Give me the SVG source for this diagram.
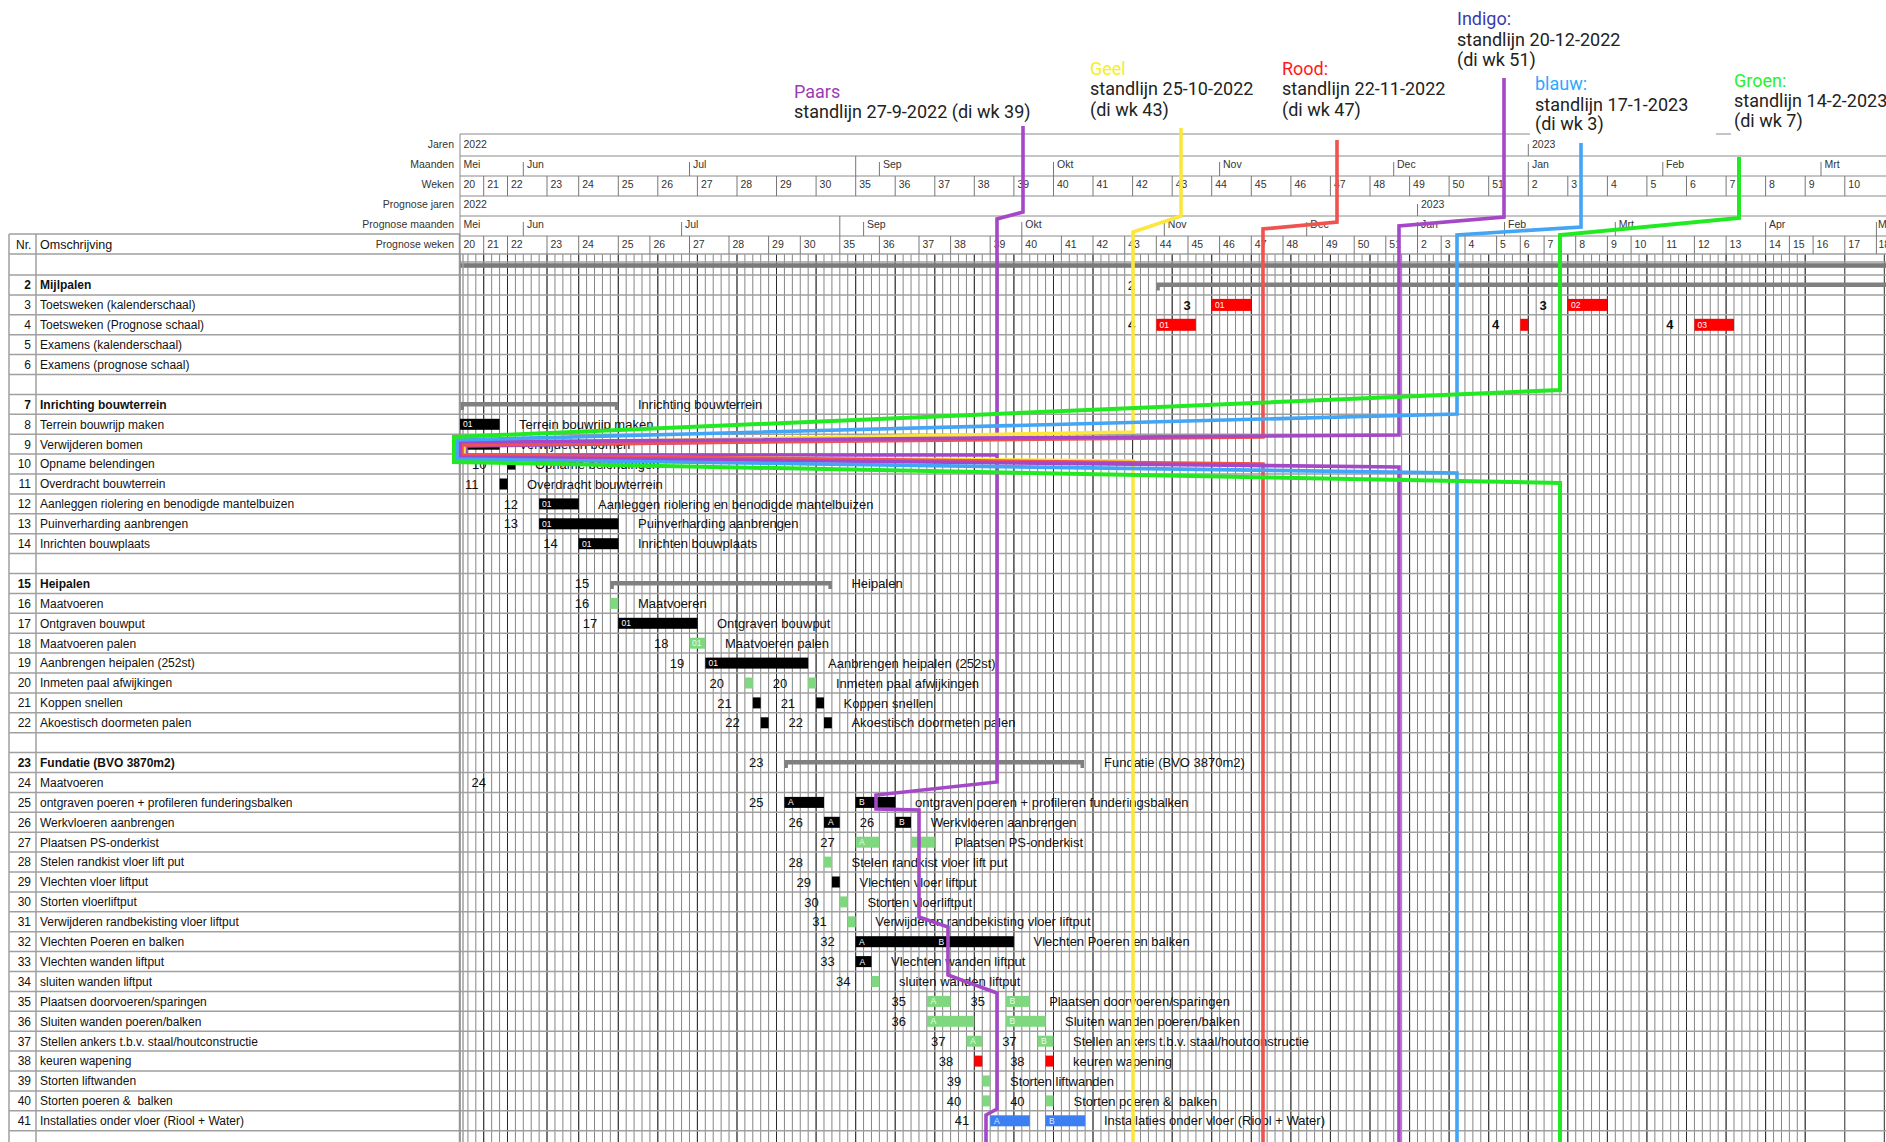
<svg xmlns="http://www.w3.org/2000/svg" width="1886" height="1142" viewBox="0 0 1886 1142">
<style>
  text{font-family:"Liberation Sans",Arial,sans-serif}
  .hl{font-size:10.5px;fill:#333}
  .hr{font-size:10.5px;fill:#333;text-anchor:end}
  .tc{font-size:12px;fill:#111}
  .nr{font-size:12px;fill:#111;text-anchor:end}
  .b{font-weight:bold}
  .lb{font-size:13px;fill:#111}
  .ln{font-size:13px;fill:#111;text-anchor:end}
  .it{font-size:8.5px;fill:#fff}
  .ig{font-size:8.5px;fill:#eefaee}
  .iu{font-size:8.5px;fill:#dde8ff}
  .st{font-family:Roboto,"Liberation Sans",sans-serif;font-size:18px;fill:#222}
  .bk{fill:#000}.gn{fill:#7fd87f}.rd{fill:#f00}.bu{fill:#3b7ff3}.sm{fill:#808080}
  .gd{stroke:#858585;stroke-width:1;fill:none}
  .gw{stroke:#2a2a2a;stroke-width:1;fill:none}
  .gh{stroke:#a0a0a0;stroke-width:1.5;fill:none}
  .hd{stroke:#8a8a8a;stroke-width:1;fill:none}
  .tk{stroke:#777;stroke-width:1;fill:none}
  .sl{fill:none;stroke-width:3.6;stroke-linejoin:miter}
</style>

<rect width="1886" height="1142" fill="#fff"/>

<!-- time grid: day columns, calendar week columns, row lines -->
<g id="grid">
  <path class="gd" d="M460 254v888m7.913-888v888m7.913-888v888m7.913-888v888m7.913-888v888m7.913-888v888m7.913-888v888m7.913-888v888m7.913-888v888m7.913-888v888m7.913-888v888m7.913-888v888m7.913-888v888m7.913-888v888m7.913-888v888m7.913-888v888m7.913-888v888m7.913-888v888m7.913-888v888m7.913-888v888m7.913-888v888m7.913-888v888m7.913-888v888m7.913-888v888m7.913-888v888m7.913-888v888m7.913-888v888m7.913-888v888m7.913-888v888m7.913-888v888m7.913-888v888m7.913-888v888m7.913-888v888m7.913-888v888m7.913-888v888m7.913-888v888m7.913-888v888m7.913-888v888m7.913-888v888m7.913-888v888m7.913-888v888m7.913-888v888m7.913-888v888m7.913-888v888m7.913-888v888m7.913-888v888m7.913-888v888m7.913-888v888m7.913-888v888m7.913-888v888m7.913-888v888m7.913-888v888m7.913-888v888m7.913-888v888m7.913-888v888m7.913-888v888m7.913-888v888m7.913-888v888m7.913-888v888m7.913-888v888m7.913-888v888m7.913-888v888m7.913-888v888m7.913-888v888m7.913-888v888m7.913-888v888m7.913-888v888m7.913-888v888m7.913-888v888m7.913-888v888m7.913-888v888m7.913-888v888m7.913-888v888m7.913-888v888m7.913-888v888m7.913-888v888m7.913-888v888m7.913-888v888m7.913-888v888m7.913-888v888m7.913-888v888m7.913-888v888m7.913-888v888m7.913-888v888m7.913-888v888m7.913-888v888m7.913-888v888m7.913-888v888m7.913-888v888m7.913-888v888m7.913-888v888m7.913-888v888m7.913-888v888m7.913-888v888m7.913-888v888m7.913-888v888m7.913-888v888m7.913-888v888m7.913-888v888m7.913-888v888m7.913-888v888m7.913-888v888m7.913-888v888m7.913-888v888m7.913-888v888m7.913-888v888m7.913-888v888m7.913-888v888m7.913-888v888m7.913-888v888m7.913-888v888m7.913-888v888m7.913-888v888m7.913-888v888m7.913-888v888m7.913-888v888m7.913-888v888m7.913-888v888m7.913-888v888m7.913-888v888m7.913-888v888m7.913-888v888m7.913-888v888m7.913-888v888m7.913-888v888m7.913-888v888m7.913-888v888m7.913-888v888m7.913-888v888m7.913-888v888m7.913-888v888m7.913-888v888m7.913-888v888m7.913-888v888m7.913-888v888m7.913-888v888m7.913-888v888m7.913-888v888m7.913-888v888m7.913-888v888m7.913-888v888m7.913-888v888m7.913-888v888m7.913-888v888m7.913-888v888m7.913-888v888m7.913-888v888m7.913-888v888m7.913-888v888m7.913-888v888m7.913-888v888m7.913-888v888m7.913-888v888m7.913-888v888m7.913-888v888m7.913-888v888m7.913-888v888m7.913-888v888m7.913-888v888m7.913-888v888m7.913-888v888m7.913-888v888m7.913-888v888m7.913-888v888m7.913-888v888m7.913-888v888m7.913-888v888m7.913-888v888m7.913-888v888m7.913-888v888m7.913-888v888"/>
  <path class="gw" d="M483.7 254V1142M507.5 254V1142M547 254V1142M578.7 254V1142M618.3 254V1142M657.8 254V1142M697.4 254V1142M737 254V1142M776.5 254V1142M816.1 254V1142M855.7 254V1142M895.2 254V1142M934.8 254V1142M974.3 254V1142M1013.9 254V1142M1053.5 254V1142M1093 254V1142M1132.6 254V1142M1172.2 254V1142M1211.7 254V1142M1251.3 254V1142M1290.9 254V1142M1330.4 254V1142M1370 254V1142M1409.6 254V1142M1449.1 254V1142M1488.7 254V1142M1528.3 254V1142M1567.8 254V1142M1607.4 254V1142M1646.9 254V1142M1686.5 254V1142M1726.1 254V1142M1765.6 254V1142M1805.2 254V1142M1844.8 254V1142M1884.3 254V1142"/>
  <path class="gh" d="M9 254H1886M460 262H1886M9 275H1886M9 294.9H1886M9 314.8H1886M9 334.7H1886M9 354.6H1886M9 374.5H1886M9 394.4H1886M9 414.3H1886M9 434.2H1886M9 454.1H1886M9 474H1886M9 493.9H1886M9 513.8H1886M9 533.7H1886M9 553.6H1886M9 573.5H1886M9 593.4H1886M9 613.3H1886M9 633.2H1886M9 653.1H1886M9 673H1886M9 692.9H1886M9 712.8H1886M9 732.7H1886M9 752.6H1886M9 772.5H1886M9 792.4H1886M9 812.3H1886M9 832.2H1886M9 852.1H1886M9 872H1886M9 891.9H1886M9 911.8H1886M9 931.7H1886M9 951.6H1886M9 971.5H1886M9 991.4H1886M9 1011.3H1886M9 1031.2H1886M9 1051.1H1886M9 1071H1886M9 1090.9H1886M9 1110.8H1886M9 1130.7H1886"/>
  <rect x="460" y="263.2" width="1426" height="4.6" fill="#7a7a7a"/>
  <!-- task table frame -->
  <path class="gh" d="M9 234H460M9 234V1142M36 234V1142M459.5 234V1142M463 254V1142"/>
</g>

<!-- timeline header -->
<g id="timeline-header">
  <path class="hd" d="M460 134H1530M1716 134H1731M460 156H1886M460 176H1886M460 196H1886M460 216H1886M460 236H1886M460 134V1142"/>
  <text class="hr" x="454" y="147.7">Jaren</text>
  <text class="hr" x="454" y="167.5">Maanden</text>
  <text class="hr" x="454" y="187.5">Weken</text>
  <text class="hr" x="454" y="207.5">Prognose jaren</text>
  <text class="hr" x="454" y="227.5">Prognose maanden</text>
  <text class="hr" x="454" y="247.5">Prognose weken</text>
  <text class="tc" x="16" y="248.5">Nr.</text>
  <text class="tc" x="40" y="248.5" style="font-size:12.5px">Omschrijving</text>

  <!-- years -->
  <path class="tk" d="M1528.3 144V156M1417.5 204V216"/>
  <text class="hl" x="463.5" y="147.7">2022</text>
  <text class="hl" x="1532" y="147.7">2023</text>
  <text class="hl" x="463.5" y="207.5">2022</text>
  <text class="hl" x="1421" y="207.5">2023</text>

  <!-- calendar months -->
  <path class="tk" d="M523.3 162V176M689.5 162V176M855.7 156V176M879.4 162V176M1053.5 162V176M1219.6 162V176M1393.7 162V176M1528.3 162V176M1662.8 162V176M1821 162V176"/>
  <g class="hl">
    <text x="463.5" y="167.5">Mei</text><text x="527" y="167.5">Jun</text><text x="693" y="167.5">Jul</text><text x="883" y="167.5">Sep</text><text x="1057" y="167.5">Okt</text><text x="1223" y="167.5">Nov</text><text x="1397" y="167.5">Dec</text><text x="1532" y="167.5">Jan</text><text x="1666" y="167.5">Feb</text><text x="1824.5" y="167.5">Mrt</text>
  </g>

  <!-- calendar weeks -->
  <path class="tk" d="M483.7 176V196M507.5 176V196M547 176V196M578.7 176V196M618.3 176V196M657.8 176V196M697.4 176V196M737 176V196M776.5 176V196M816.1 176V196M855.7 176V196M895.2 176V196M934.8 176V196M974.3 176V196M1013.9 176V196M1053.5 176V196M1093 176V196M1132.6 176V196M1172.2 176V196M1211.7 176V196M1251.3 176V196M1290.9 176V196M1330.4 176V196M1370 176V196M1409.6 176V196M1449.1 176V196M1488.7 176V196M1528.3 176V196M1567.8 176V196M1607.4 176V196M1646.9 176V196M1686.5 176V196M1726.1 176V196M1765.6 176V196M1805.2 176V196M1844.8 176V196"/>
  <g class="hl">
    <text x="463.5" y="187.5">20</text><text x="487.2" y="187.5">21</text><text x="511" y="187.5">22</text><text x="550.5" y="187.5">23</text><text x="582.2" y="187.5">24</text><text x="621.8" y="187.5">25</text><text x="661.3" y="187.5">26</text><text x="700.9" y="187.5">27</text><text x="740.5" y="187.5">28</text><text x="780" y="187.5">29</text><text x="819.6" y="187.5">30</text><text x="859.2" y="187.5">35</text><text x="898.7" y="187.5">36</text><text x="938.3" y="187.5">37</text><text x="977.8" y="187.5">38</text><text x="1017.4" y="187.5">39</text><text x="1057" y="187.5">40</text><text x="1096.5" y="187.5">41</text><text x="1136.1" y="187.5">42</text><text x="1175.7" y="187.5">43</text><text x="1215.2" y="187.5">44</text><text x="1254.8" y="187.5">45</text><text x="1294.4" y="187.5">46</text><text x="1333.9" y="187.5">47</text><text x="1373.5" y="187.5">48</text><text x="1413.1" y="187.5">49</text><text x="1452.6" y="187.5">50</text><text x="1492.2" y="187.5">51</text><text x="1531.8" y="187.5">2</text><text x="1571.3" y="187.5">3</text><text x="1610.9" y="187.5">4</text><text x="1650.4" y="187.5">5</text><text x="1690" y="187.5">6</text><text x="1729.6" y="187.5">7</text><text x="1769.1" y="187.5">8</text><text x="1808.7" y="187.5">9</text><text x="1848.3" y="187.5">10</text>
  </g>

  <!-- forecast months -->
  <path class="tk" d="M523.3 222V236M681.6 222V236M839.8 216V236M863.6 222V236M1021.8 222V236M1164.3 222V236M1306.7 222V236M1417.5 222V236M1504.5 222V236M1615.3 222V236M1765.6 222V236M1876.4 222V236"/>
  <g class="hl">
    <text x="463.5" y="227.5">Mei</text><text x="527" y="227.5">Jun</text><text x="685" y="227.5">Jul</text><text x="867" y="227.5">Sep</text><text x="1025.3" y="227.5">Okt</text><text x="1167.8" y="227.5">Nov</text><text x="1310.2" y="227.5">Dec</text><text x="1421" y="227.5">Jan</text><text x="1508" y="227.5">Feb</text><text x="1618.8" y="227.5">Mrt</text><text x="1769" y="227.5">Apr</text><text x="1878" y="227.5">Mei</text>
  </g>

  <!-- forecast weeks -->
  <path class="tk" d="M483.7 236V254M507.5 236V254M547 236V254M578.7 236V254M618.3 236V254M649.9 236V254M689.5 236V254M729 236V254M768.6 236V254M800.3 236V254M839.8 236V254M879.4 236V254M919 236V254M950.6 236V254M990.2 236V254M1021.8 236V254M1061.4 236V254M1093 236V254M1124.7 236V254M1156.3 236V254M1188 236V254M1219.6 236V254M1251.3 236V254M1283 236V254M1322.5 236V254M1354.2 236V254M1385.8 236V254M1417.5 236V254M1441.2 236V254M1465 236V254M1496.6 236V254M1520.3 236V254M1544.1 236V254M1575.7 236V254M1607.4 236V254M1631.1 236V254M1662.8 236V254M1694.4 236V254M1726.1 236V254M1765.6 236V254M1789.4 236V254M1813.1 236V254M1844.8 236V254M1876.4 236V254"/>
  <g class="hl">
    <text x="463.5" y="247.5">20</text><text x="487.2" y="247.5">21</text><text x="511" y="247.5">22</text><text x="550.5" y="247.5">23</text><text x="582.2" y="247.5">24</text><text x="621.8" y="247.5">25</text><text x="653.4" y="247.5">26</text><text x="693" y="247.5">27</text><text x="732.5" y="247.5">28</text><text x="772.1" y="247.5">29</text><text x="803.8" y="247.5">30</text><text x="843.3" y="247.5">35</text><text x="882.9" y="247.5">36</text><text x="922.5" y="247.5">37</text><text x="954.1" y="247.5">38</text><text x="993.7" y="247.5">39</text><text x="1025.3" y="247.5">40</text><text x="1064.9" y="247.5">41</text><text x="1096.5" y="247.5">42</text><text x="1128.2" y="247.5">43</text><text x="1159.8" y="247.5">44</text><text x="1191.5" y="247.5">45</text><text x="1223.1" y="247.5">46</text><text x="1254.8" y="247.5">47</text><text x="1286.5" y="247.5">48</text><text x="1326" y="247.5">49</text><text x="1357.7" y="247.5">50</text><text x="1389.3" y="247.5">51</text><text x="1421" y="247.5">2</text><text x="1444.7" y="247.5">3</text><text x="1468.5" y="247.5">4</text><text x="1500.1" y="247.5">5</text><text x="1523.8" y="247.5">6</text><text x="1547.6" y="247.5">7</text><text x="1579.2" y="247.5">8</text><text x="1610.9" y="247.5">9</text><text x="1634.6" y="247.5">10</text><text x="1666.3" y="247.5">11</text><text x="1697.9" y="247.5">12</text><text x="1729.6" y="247.5">13</text><text x="1769.1" y="247.5">14</text><text x="1792.9" y="247.5">15</text><text x="1816.6" y="247.5">16</text><text x="1848.3" y="247.5">17</text><text x="1878.5" y="247.5">18</text>
  </g>
</g>

<!-- tasks: one group per row, origin on the row centre line -->
<g id="task-2" transform="translate(0 285)">
  <text class="nr b" x="31" y="4.3">2</text><text class="tc b" x="40" y="4.3">Mijlpalen</text>
  <text class="ln" x="1135" y="4.6">2</text>
  <path class="sm" d="M1156.3 -2.5H1890V2H1159.8V5.5H1156.3Z"/>
</g>
<g id="task-3" transform="translate(0 304.9)">
  <text class="nr" x="31" y="4.3">3</text><text class="tc" x="40" y="4.3">Toetsweken (kalenderschaal)</text>
  <text class="ln b" x="1190.7" y="4.6">3</text>
  <rect class="rd" x="1211.7" y="-6" width="39.6" height="12"/><text class="it" x="1215" y="3">01</text>
  <text class="ln b" x="1546.8" y="4.6">3</text>
  <rect class="rd" x="1567.8" y="-6" width="39.6" height="12"/><text class="it" x="1571" y="3">02</text>
</g>
<g id="task-4" transform="translate(0 324.8)">
  <text class="nr" x="31" y="4.3">4</text><text class="tc" x="40" y="4.3">Toetsweken (Prognose schaal)</text>
  <text class="ln b" x="1135.3" y="4.6">4</text>
  <rect class="rd" x="1156.3" y="-6" width="39.6" height="12"/><text class="it" x="1159.5" y="3">01</text>
  <text class="ln b" x="1499.3" y="4.6">4</text>
  <rect class="rd" x="1520.3" y="-6" width="8" height="12"/>
  <text class="ln b" x="1673.4" y="4.6">4</text>
  <rect class="rd" x="1694.4" y="-6" width="39.6" height="12"/><text class="it" x="1697.5" y="3">03</text>
</g>
<g id="task-5" transform="translate(0 344.7)">
  <text class="nr" x="31" y="4.3">5</text><text class="tc" x="40" y="4.3">Examens (kalenderschaal)</text>
</g>
<g id="task-6" transform="translate(0 364.6)">
  <text class="nr" x="31" y="4.3">6</text><text class="tc" x="40" y="4.3">Examens (prognose schaal)</text>
</g>

<g id="task-7" transform="translate(0 404.4)">
  <text class="nr b" x="31" y="4.3">7</text><text class="tc b" x="40" y="4.3">Inrichting bouwterrein</text>
  <path class="sm" d="M460.5 -2.5H618.3V5.5H614.8V2H464V5.5H460.5Z"/>
  <text class="lb" x="638" y="4.6">Inrichting bouwterrein</text>
</g>
<g id="task-8" transform="translate(0 424.3)">
  <text class="nr" x="31" y="4.3">8</text><text class="tc" x="40" y="4.3">Terrein bouwrijp maken</text>
  <rect class="bk" x="460" y="-5.5" width="39.6" height="11"/><text class="it" x="463" y="3">01</text>
  <text class="lb" x="519" y="4.6">Terrein bouwrijp maken</text>
</g>
<g id="task-9" transform="translate(0 444.2)">
  <text class="nr" x="31" y="4.3">9</text><text class="tc" x="40" y="4.3">Verwijderen bomen</text>
  <rect class="bk" x="460" y="-5.5" width="39.6" height="11"/><text class="it" x="463" y="3">01</text>
  <text class="lb" x="519" y="4.6">Verwijderen bomen</text>
</g>
<g id="task-10" transform="translate(0 464.1)">
  <text class="nr" x="31" y="4.3">10</text><text class="tc" x="40" y="4.3">Opname belendingen</text>
  <text class="ln" x="486.5" y="4.6">10</text>
  <rect class="bk" x="507.5" y="-5.5" width="7.9" height="11"/>
  <text class="lb" x="535" y="4.6">Opname belendingen</text>
</g>
<g id="task-11" transform="translate(0 484)">
  <text class="nr" x="31" y="4.3">11</text><text class="tc" x="40" y="4.3">Overdracht bouwterrein</text>
  <text class="ln" x="478.6" y="4.6">11</text>
  <rect class="bk" x="499.6" y="-5.5" width="7.9" height="11"/>
  <text class="lb" x="527" y="4.6">Overdracht bouwterrein</text>
</g>
<g id="task-12" transform="translate(0 503.9)">
  <text class="nr" x="31" y="4.3">12</text><text class="tc" x="40" y="4.3">Aanleggen riolering en benodigde mantelbuizen</text>
  <text class="ln" x="518.1" y="4.6">12</text>
  <rect class="bk" x="539.1" y="-5.5" width="39.6" height="11"/><text class="it" x="542" y="3">01</text>
  <text class="lb" x="598" y="4.6">Aanleggen riolering en benodigde mantelbuizen</text>
</g>
<g id="task-13" transform="translate(0 523.8)">
  <text class="nr" x="31" y="4.3">13</text><text class="tc" x="40" y="4.3">Puinverharding aanbrengen</text>
  <text class="ln" x="518.1" y="4.6">13</text>
  <rect class="bk" x="539.1" y="-5.5" width="79.2" height="11"/><text class="it" x="542" y="3">01</text>
  <text class="lb" x="638" y="4.6">Puinverharding aanbrengen</text>
</g>
<g id="task-14" transform="translate(0 543.7)">
  <text class="nr" x="31" y="4.3">14</text><text class="tc" x="40" y="4.3">Inrichten bouwplaats</text>
  <text class="ln" x="557.7" y="4.6">14</text>
  <rect class="bk" x="578.7" y="-5.5" width="39.6" height="11"/><text class="it" x="582" y="3">01</text>
  <text class="lb" x="638" y="4.6">Inrichten bouwplaats</text>
</g>

<g id="task-15" transform="translate(0 583.5)">
  <text class="nr b" x="31" y="4.3">15</text><text class="tc b" x="40" y="4.3">Heipalen</text>
  <text class="ln" x="589.3" y="4.6">15</text>
  <path class="sm" d="M610.3 -2.5H831.9V5.5H828.4V2H613.8V5.5H610.3Z"/>
  <text class="lb" x="851.4" y="4.6">Heipalen</text>
</g>
<g id="task-16" transform="translate(0 603.4)">
  <text class="nr" x="31" y="4.3">16</text><text class="tc" x="40" y="4.3">Maatvoeren</text>
  <text class="ln" x="589.3" y="4.6">16</text>
  <rect class="gn" x="610.3" y="-5.5" width="8" height="11"/>
  <text class="lb" x="638" y="4.6">Maatvoeren</text>
</g>
<g id="task-17" transform="translate(0 623.3)">
  <text class="nr" x="31" y="4.3">17</text><text class="tc" x="40" y="4.3">Ontgraven bouwput</text>
  <text class="ln" x="597.3" y="4.6">17</text>
  <rect class="bk" x="618.3" y="-5.5" width="79.1" height="11"/><text class="it" x="621.5" y="3">01</text>
  <text class="lb" x="717" y="4.6">Ontgraven bouwput</text>
</g>
<g id="task-18" transform="translate(0 643.2)">
  <text class="nr" x="31" y="4.3">18</text><text class="tc" x="40" y="4.3">Maatvoeren palen</text>
  <text class="ln" x="668.5" y="4.6">18</text>
  <rect class="gn" x="689.5" y="-5.5" width="15.8" height="11"/><text class="ig" x="692" y="3">01</text>
  <text class="lb" x="725" y="4.6">Maatvoeren palen</text>
</g>
<g id="task-19" transform="translate(0 663.1)">
  <text class="nr" x="31" y="4.3">19</text><text class="tc" x="40" y="4.3">Aanbrengen heipalen (252st)</text>
  <text class="ln" x="684.3" y="4.6">19</text>
  <rect class="bk" x="705.3" y="-5.5" width="102.9" height="11"/><text class="it" x="708.5" y="3">01</text>
  <text class="lb" x="828" y="4.6">Aanbrengen heipalen (252st)</text>
</g>
<g id="task-20" transform="translate(0 683)">
  <text class="nr" x="31" y="4.3">20</text><text class="tc" x="40" y="4.3">Inmeten paal afwijkingen</text>
  <text class="ln" x="723.9" y="4.6">20</text>
  <rect class="gn" x="744.9" y="-5.5" width="7.9" height="11"/>
  <text class="ln" x="787.2" y="4.6">20</text>
  <rect class="gn" x="808.2" y="-5.5" width="7.9" height="11"/>
  <text class="lb" x="836" y="4.6">Inmeten paal afwijkingen</text>
</g>
<g id="task-21" transform="translate(0 702.9)">
  <text class="nr" x="31" y="4.3">21</text><text class="tc" x="40" y="4.3">Koppen snellen</text>
  <text class="ln" x="731.8" y="4.6">21</text>
  <rect class="bk" x="752.8" y="-5.5" width="7.9" height="11"/>
  <text class="ln" x="795.1" y="4.6">21</text>
  <rect class="bk" x="816.1" y="-5.5" width="7.9" height="11"/>
  <text class="lb" x="843.5" y="4.6">Koppen snellen</text>
</g>
<g id="task-22" transform="translate(0 722.8)">
  <text class="nr" x="31" y="4.3">22</text><text class="tc" x="40" y="4.3">Akoestisch doormeten palen</text>
  <text class="ln" x="739.7" y="4.6">22</text>
  <rect class="bk" x="760.7" y="-5.5" width="7.9" height="11"/>
  <text class="ln" x="803" y="4.6">22</text>
  <rect class="bk" x="824" y="-5.5" width="7.9" height="11"/>
  <text class="lb" x="851.4" y="4.6">Akoestisch doormeten palen</text>
</g>

<g id="task-23" transform="translate(0 762.6)">
  <text class="nr b" x="31" y="4.3">23</text><text class="tc b" x="40" y="4.3">Fundatie (BVO 3870m2)</text>
  <text class="ln" x="763.4" y="4.6">23</text>
  <path class="sm" d="M784.4 -2.5H1084V5.5H1080.5V2H787.9V5.5H784.4Z"/>
  <text class="lb" x="1104" y="4.6">Fundatie (BVO 3870m2)</text>
</g>
<g id="task-24" transform="translate(0 782.5)">
  <text class="nr" x="31" y="4.3">24</text><text class="tc" x="40" y="4.3">Maatvoeren</text>
  <text class="ln" x="486" y="4.6">24</text>
</g>
<g id="task-25" transform="translate(0 802.4)">
  <text class="nr" x="31" y="4.3">25</text><text class="tc" x="40" y="4.3">ontgraven poeren + profileren funderingsbalken</text>
  <text class="ln" x="763.4" y="4.6">25</text>
  <rect class="bk" x="784.4" y="-5.5" width="39.6" height="11"/><text class="it" x="788" y="3">A</text>
  <rect class="bk" x="855.7" y="-5.5" width="39.5" height="11"/><text class="it" x="859" y="3">B</text>
  <text class="lb" x="915" y="4.6">ontgraven poeren + profileren funderingsbalken</text>
</g>
<g id="task-26" transform="translate(0 822.3)">
  <text class="nr" x="31" y="4.3">26</text><text class="tc" x="40" y="4.3">Werkvloeren aanbrengen</text>
  <text class="ln" x="803" y="4.6">26</text>
  <rect class="bk" x="824" y="-5.5" width="15.8" height="11"/><text class="it" x="828" y="3">A</text>
  <text class="ln" x="874.2" y="4.6">26</text>
  <rect class="bk" x="895.2" y="-5.5" width="15.8" height="11"/><text class="it" x="899" y="3">B</text>
  <text class="lb" x="930.8" y="4.6">Werkvloeren aanbrengen</text>
</g>
<g id="task-27" transform="translate(0 842.2)">
  <text class="nr" x="31" y="4.3">27</text><text class="tc" x="40" y="4.3">Plaatsen PS-onderkist</text>
  <text class="ln" x="834.7" y="4.6">27</text>
  <rect class="gn" x="855.7" y="-5.5" width="23.7" height="11"/><text class="ig" x="859" y="3">A</text>
  <rect class="gn" x="911" y="-5.5" width="23.8" height="11"/>
  <text class="lb" x="954.5" y="4.6">Plaatsen PS-onderkist</text>
</g>
<g id="task-28" transform="translate(0 862.1)">
  <text class="nr" x="31" y="4.3">28</text><text class="tc" x="40" y="4.3">Stelen randkist vloer lift put</text>
  <text class="ln" x="803" y="4.6">28</text>
  <rect class="gn" x="824" y="-5.5" width="7.9" height="11"/>
  <text class="lb" x="851.5" y="4.6">Stelen randkist vloer lift put</text>
</g>
<g id="task-29" transform="translate(0 882)">
  <text class="nr" x="31" y="4.3">29</text><text class="tc" x="40" y="4.3">Vlechten vloer liftput</text>
  <text class="ln" x="810.9" y="4.6">29</text>
  <rect class="bk" x="831.9" y="-5.5" width="7.9" height="11"/>
  <text class="lb" x="859.5" y="4.6">Vlechten vloer liftput</text>
</g>
<g id="task-30" transform="translate(0 901.9)">
  <text class="nr" x="31" y="4.3">30</text><text class="tc" x="40" y="4.3">Storten vloerliftput</text>
  <text class="ln" x="818.8" y="4.6">30</text>
  <rect class="gn" x="839.8" y="-5.5" width="7.9" height="11"/>
  <text class="lb" x="867.4" y="4.6">Storten vloerliftput</text>
</g>
<g id="task-31" transform="translate(0 921.8)">
  <text class="nr" x="31" y="4.3">31</text><text class="tc" x="40" y="4.3">Verwijderen randbekisting vloer liftput</text>
  <text class="ln" x="826.7" y="4.6">31</text>
  <rect class="gn" x="847.7" y="-5.5" width="8" height="11"/>
  <text class="lb" x="875.3" y="4.6">Verwijderen randbekisting vloer liftput</text>
</g>
<g id="task-32" transform="translate(0 941.7)">
  <text class="nr" x="31" y="4.3">32</text><text class="tc" x="40" y="4.3">Vlechten Poeren en balken</text>
  <text class="ln" x="834.7" y="4.6">32</text>
  <rect class="bk" x="855.7" y="-5.5" width="158.2" height="11"/><text class="it" x="859" y="3">A</text><text class="it" x="938.5" y="3">B</text>
  <text class="lb" x="1033.5" y="4.6">Vlechten Poeren en balken</text>
</g>
<g id="task-33" transform="translate(0 961.6)">
  <text class="nr" x="31" y="4.3">33</text><text class="tc" x="40" y="4.3">Vlechten wanden liftput</text>
  <text class="ln" x="834.7" y="4.6">33</text>
  <rect class="bk" x="855.7" y="-5.5" width="15.8" height="11"/><text class="it" x="859.5" y="3">A</text>
  <text class="lb" x="891" y="4.6">Vlechten wanden liftput</text>
</g>
<g id="task-34" transform="translate(0 981.5)">
  <text class="nr" x="31" y="4.3">34</text><text class="tc" x="40" y="4.3">sluiten wanden liftput</text>
  <text class="ln" x="850.5" y="4.6">34</text>
  <rect class="gn" x="871.5" y="-5.5" width="7.9" height="11"/>
  <text class="lb" x="899" y="4.6">sluiten wanden liftput</text>
</g>
<g id="task-35" transform="translate(0 1001.4)">
  <text class="nr" x="31" y="4.3">35</text><text class="tc" x="40" y="4.3">Plaatsen doorvoeren/sparingen</text>
  <text class="ln" x="905.9" y="4.6">35</text>
  <rect class="gn" x="926.9" y="-5.5" width="23.7" height="11"/><text class="ig" x="930.5" y="3">A</text>
  <text class="ln" x="985" y="4.6">35</text>
  <rect class="gn" x="1006" y="-5.5" width="23.7" height="11"/><text class="ig" x="1009.5" y="3">B</text>
  <text class="lb" x="1049.2" y="4.6">Plaatsen doorvoeren/sparingen</text>
</g>
<g id="task-36" transform="translate(0 1021.3)">
  <text class="nr" x="31" y="4.3">36</text><text class="tc" x="40" y="4.3">Sluiten wanden poeren/balken</text>
  <text class="ln" x="905.9" y="4.6">36</text>
  <rect class="gn" x="926.9" y="-5.5" width="47.4" height="11"/><text class="ig" x="930.5" y="3">A</text>
  <rect class="gn" x="1006" y="-5.5" width="39.6" height="11"/><text class="ig" x="1009.5" y="3">B</text>
  <text class="lb" x="1065" y="4.6">Sluiten wanden poeren/balken</text>
</g>
<g id="task-37" transform="translate(0 1041.2)">
  <text class="nr" x="31" y="4.3">37</text><text class="tc" x="40" y="4.3">Stellen ankers t.b.v. staal/houtconstructie</text>
  <text class="ln" x="945.4" y="4.6">37</text>
  <rect class="gn" x="966.4" y="-5.5" width="15.9" height="11"/><text class="ig" x="970" y="3">A</text>
  <text class="ln" x="1016.6" y="4.6">37</text>
  <rect class="gn" x="1037.6" y="-5.5" width="15.9" height="11"/><text class="ig" x="1041" y="3">B</text>
  <text class="lb" x="1073" y="4.6">Stellen ankers t.b.v. staal/houtconstructie</text>
</g>
<g id="task-38" transform="translate(0 1061.1)">
  <text class="nr" x="31" y="4.3">38</text><text class="tc" x="40" y="4.3">keuren wapening</text>
  <text class="ln" x="953.3" y="4.6">38</text>
  <rect class="rd" x="974.3" y="-5.5" width="8" height="11"/>
  <text class="ln" x="1024.6" y="4.6">38</text>
  <rect class="rd" x="1045.6" y="-5.5" width="7.9" height="11"/>
  <text class="lb" x="1073" y="4.6">keuren wapening</text>
</g>
<g id="task-39" transform="translate(0 1081)">
  <text class="nr" x="31" y="4.3">39</text><text class="tc" x="40" y="4.3">Storten liftwanden</text>
  <text class="ln" x="961.3" y="4.6">39</text>
  <rect class="gn" x="982.3" y="-5.5" width="7.9" height="11"/>
  <text class="lb" x="1010" y="4.6">Storten liftwanden</text>
</g>
<g id="task-40" transform="translate(0 1100.9)">
  <text class="nr" x="31" y="4.3">40</text><text class="tc" x="40" y="4.3">Storten poeren &amp;&#160; balken</text>
  <text class="ln" x="961.3" y="4.6">40</text>
  <rect class="gn" x="982.3" y="-5.5" width="7.9" height="11"/>
  <text class="ln" x="1024.6" y="4.6">40</text>
  <rect class="gn" x="1045.6" y="-5.5" width="7.9" height="11"/>
  <text class="lb" x="1073.5" y="4.6">Storten poeren &amp;&#160; balken</text>
</g>
<g id="task-41" transform="translate(0 1120.8)">
  <text class="nr" x="31" y="4.3">41</text><text class="tc" x="40" y="4.3">Installaties onder vloer (Riool + Water)</text>
  <text class="ln" x="969.2" y="4.6">41</text>
  <rect class="bu" x="990.2" y="-5.5" width="39.5" height="11"/><text class="iu" x="994" y="3">A</text>
  <rect class="bu" x="1045.6" y="-5.5" width="39.5" height="11"/><text class="iu" x="1049" y="3">B</text>
  <text class="lb" x="1104" y="4.6">Installaties onder vloer (Riool + Water)</text>
</g>

<!-- progress lines (standlijnen) with their captions -->
<g id="standlijn-labels">
  <text class="st" x="794" y="97.5" style="fill:#9b3cb7">Paars</text>
  <text class="st" x="794" y="118">standlijn 27-9-2022 (di wk 39)</text>
  <text class="st" x="1090" y="75" style="fill:#f5ef1a">Geel</text>
  <text class="st" x="1090" y="95">standlijn 25-10-2022</text>
  <text class="st" x="1090" y="115.5">(di wk 43)</text>
  <text class="st" x="1282" y="75" style="fill:#ff1a1a">Rood:</text>
  <text class="st" x="1282" y="95">standlijn 22-11-2022</text>
  <text class="st" x="1282" y="115.5">(di wk 47)</text>
  <text class="st" x="1457" y="25" style="fill:#3a3ab0">Indigo:</text>
  <text class="st" x="1457" y="46">standlijn 20-12-2022</text>
  <text class="st" x="1457" y="66">(di wk 51)</text>
  <text class="st" x="1535" y="90" style="fill:#2ea8ff">blauw:</text>
  <text class="st" x="1535" y="110.5">standlijn 17-1-2023</text>
  <text class="st" x="1535" y="130">(di wk 3)</text>
  <text class="st" x="1734" y="86.5" style="fill:#2af02a">Groen:</text>
  <text class="st" x="1734" y="107">standlijn 14-2-2023</text>
  <text class="st" x="1734" y="126.5">(di wk 7)</text>
</g>
<g id="standlijnen" class="sl">
  <polyline stroke="#a548c8" points="1023,126 1023,212 997,219 997,438 466,446 466,455 997,455 997,782 876,795 876,809 919,810 919,917 948,927 948,975 997,993 997,1109 986,1115 986,1142"/>
  <polyline stroke="#fde73a" points="1181,128 1181,216 1133,232 1133,432 464,444 464,456 1133,461 1133,1142"/>
  <polyline stroke="#ef5350" points="1337,140 1337,222 1263,229 1263,437 462,445 462,455 1263,464 1263,1142"/>
  <polyline stroke="#a548c8" points="1504,78 1504,217 1399,226 1399,435 460,442 460,457 1399,467 1399,1142"/>
  <polyline stroke="#42a5f5" points="1581,143 1581,227 1457,235 1457,414 457,440 457,459 1457,473 1457,1142"/>
  <polyline stroke="#22ea22" stroke-width="4" points="1739,157 1739,218 1560,235 1560,390 454,437 454,462 1560,483 1560,1142"/>
</g>
</svg>
